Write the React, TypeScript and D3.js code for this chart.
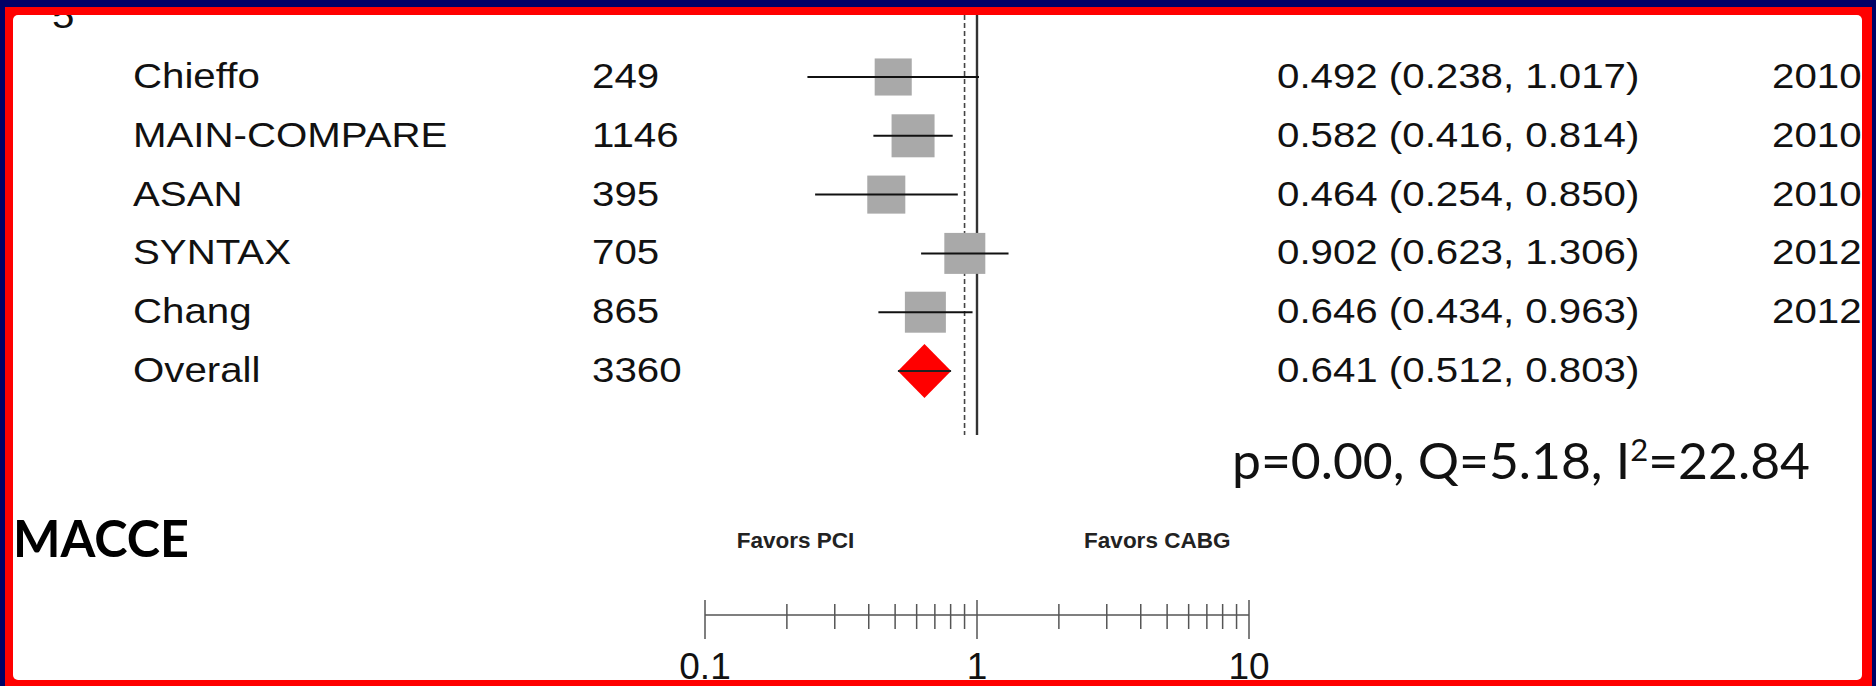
import React from "react";
import * as d3 from "d3";

// study rows
const studies = ["Chieffo", "MAIN-COMPARE", "ASAN", "SYNTAX", "Chang"];
const sampleSizes = [249, 1146, 395, 705, 865];
const hazardRatios = [0.492, 0.582, 0.464, 0.902, 0.646];
const lowerCI = [0.238, 0.416, 0.254, 0.623, 0.434];
const upperCI = [1.017, 0.814, 0.85, 1.306, 0.963];
const years = ["2010", "2010", "2010", "2012", "2012"];
const weights = [17.1, 23.0, 18.0, 20.9, 20.9]; // % weight

// pooled estimate
const overallLabel = "Overall";
const overallN = 3360;
const overallHR = 0.641;
const overallLower = 0.512;
const overallUpper = 0.803;

const dashedRef = 0.9;
const axisLabels = [0.1, 1, 10];
const favorLabels = ["Favors PCI", "Favors CABG"];
const favorAt = [0.215, 4.6];
const pValue = "0.00";
const qValue = "5.18";
const i2Value = "22.84";
const outcomeTitle = "MACCE";
const panelMark = "5";

const fmt = d3.format(".3f");
const arial = "'Liberation Sans', Arial, sans-serif";
const calibriLike = "Lato, 'Open Sans', sans-serif";

export default function App() {
  const W = 1876;
  const H = 686;
  const x = d3.scaleLog().domain([0.1, 10]).range([705, 1249]);
  const rows = [...studies, overallLabel];
  const y = d3.scalePoint<string>().domain(rows).range([77, 371]);
  const box = d3.scaleSqrt().domain([0, d3.max(weights) as number]).range([0, 43]);
  const ticks = x.ticks();
  const axisY = 615;
  const sx = 1.15; // the source text is a bit wide
  const innerBottom = 680;

  const cell = (txt: string, tx: number, ty: number, key: string) => (
    <text
      key={key}
      transform={`translate(${tx},${ty}) scale(${sx},1)`}
      fontSize={35}
      fontFamily={arial}
      fill="#111"
    >
      {txt}
    </text>
  );

  const oy = y(overallLabel) as number;

  return (
    <svg width={W} height={H} style={{ position: "absolute", left: 0, top: 0 }}>
      <defs>
        <clipPath id="inner">
          <rect x={13} y={15} width={1849} height={innerBottom - 15} />
        </clipPath>
      </defs>
      <rect x={0} y={0} width={W} height={H} fill="#000066" />
      <rect x={5} y={7} width={1867} height={H} fill="#ff0000" />
      <rect x={13} y={15} width={1849} height={innerBottom - 15} rx={5} fill="#ffffff" />

      <g clipPath="url(#inner)">
        {cell(panelMark, 52, 28, "mark")}

        {/* reference lines */}
        <line x1={x(dashedRef)} x2={x(dashedRef)} y1={15} y2={435} stroke="#444" strokeWidth={1.6} strokeDasharray="5,3" />
        <line x1={x(1)} x2={x(1)} y1={15} y2={435} stroke="#333" strokeWidth={2.4} />

        {studies.map((s, i) => {
          const cy = y(s) as number;
          const side = box(weights[i]);
          return (
            <g key={s}>
              {cell(s, 133, cy + 11, "n" + i)}
              {cell(String(sampleSizes[i]), 592, cy + 11, "s" + i)}
              {cell(`${fmt(hazardRatios[i])} (${fmt(lowerCI[i])}, ${fmt(upperCI[i])})`, 1277, cy + 11, "h" + i)}
              {cell(years[i], 1772, cy + 11, "y" + i)}
              <rect
                x={x(hazardRatios[i]) - side / 2}
                y={cy - side / 2}
                width={side}
                height={side}
                fill="#a9a9a9"
              />
              <line x1={x(lowerCI[i])} x2={x(upperCI[i])} y1={cy} y2={cy} stroke="#111" strokeWidth={2} />
            </g>
          );
        })}

        {cell(overallLabel, 133, oy + 11, "on")}
        {cell(String(overallN), 592, oy + 11, "os")}
        {cell(`${fmt(overallHR)} (${fmt(overallLower)}, ${fmt(overallUpper)})`, 1277, oy + 11, "oh")}
        <path
          d={`M${x(overallLower)},${oy} L${x(overallHR)},${oy - 27} L${x(overallUpper)},${oy} L${x(overallHR)},${oy + 27} Z`}
          fill="#ff0000"
        />
        <line x1={x(overallLower)} x2={x(overallUpper)} y1={oy} y2={oy} stroke="#222" strokeWidth={2} />

        {/* heterogeneity */}
        <text x={1232} y={479} fontSize={50} fontFamily={calibriLike} fill="#111" textLength={578} lengthAdjust="spacingAndGlyphs">
          {`p=${pValue}, Q=${qValue}, I`}
          <tspan dy={-18} fontSize={30}>2</tspan>
          <tspan dy={18}>{`=${i2Value}`}</tspan>
        </text>

        <text x={13} y={557} fontSize={52} fontWeight={700} fontFamily={calibriLike} fill="#000" textLength={176} lengthAdjust="spacingAndGlyphs">
          {outcomeTitle}
        </text>

        {favorLabels.map((f, i) => (
          <text key={f} x={x(favorAt[i])} y={548} textAnchor="middle" fontSize={22.5} fontWeight={700} fontFamily={arial} fill="#222">
            {f}
          </text>
        ))}

        {/* axis */}
        <line x1={x(0.1)} x2={x(10)} y1={axisY} y2={axisY} stroke="#555" strokeWidth={1.6} />
        {ticks.map((t, i) => {
          const major = Math.abs(Math.log10(t) - Math.round(Math.log10(t))) < 1e-9;
          return (
            <line
              key={i}
              x1={x(t)}
              x2={x(t)}
              y1={major ? axisY - 15 : axisY - 11}
              y2={major ? axisY + 24 : axisY + 14}
              stroke="#555"
              strokeWidth={1.5}
            />
          );
        })}
        {axisLabels.map((t) => (
          <text key={t} x={x(t)} y={679} textAnchor="middle" fontSize={37} fontFamily={arial} fill="#111">
            {String(t)}
          </text>
        ))}
      </g>
    </svg>
  );
}
